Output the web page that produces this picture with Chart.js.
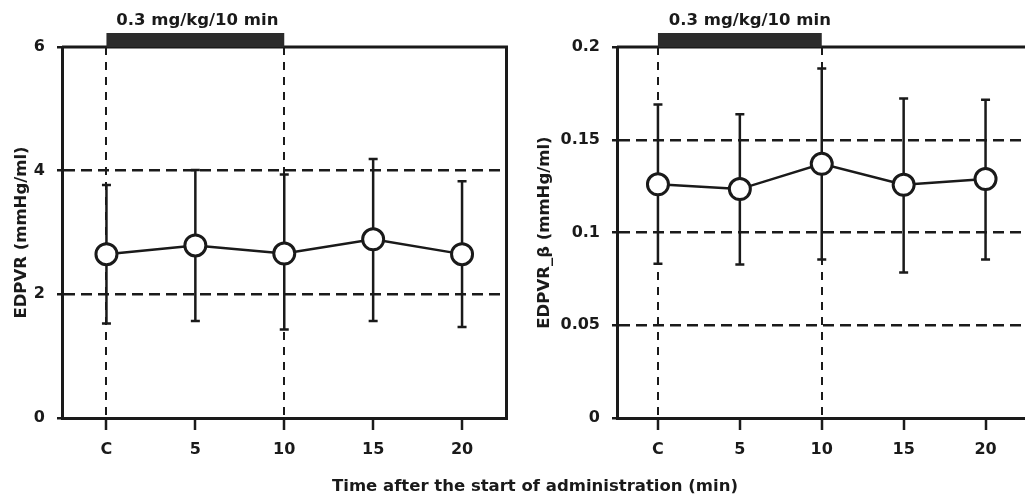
<!DOCTYPE html>
<html>
<head>
<meta charset="utf-8">
<script src="https://cdn.jsdelivr.net/npm/chart.js@4"></script>
<style>
html,body{margin:0;padding:0;background:#fff;overflow:hidden}
body{width:1025px;height:499px;position:relative}
canvas{position:absolute;top:0}
#cl{left:0}
#cr{left:520px}
#xt{position:absolute;left:0;width:1070px;top:476px;text-align:center;font:bold 16.5px "DejaVu Sans";color:#1a1a1a}
</style>
</head>
<body>
<canvas id="cl" width="520" height="499"></canvas>
<canvas id="cr" width="520" height="499"></canvas>
<div id="xt">Time after the start of administration (min)</div>

<script>
// data
var times = ['C', '5', '10', '15', '20'];
var xPos = [0, 1, 2, 3, 4];

var edpvr = [2.65, 2.79, 2.66, 2.89, 2.65];
var edpvrHi = [3.77, 4.01, 3.94, 4.19, 3.83];
var edpvrLo = [1.53, 1.57, 1.43, 1.57, 1.47];

var beta = [0.126, 0.1234, 0.137, 0.1257, 0.1288];
var betaHi = [0.169, 0.1637, 0.1884, 0.1722, 0.1716];
var betaLo = [0.0831, 0.0828, 0.0855, 0.0785, 0.0855];

var yTicksL = [0, 2, 4, 6];
var yLabelsL = ['0', '2', '4', '6'];
var yTicksR = [0, 0.05, 0.1, 0.15, 0.2];
var yLabelsR = ['0', '0.05', '0.1', '0.15', '0.2'];

var doseStart = 0, doseEnd = 2;
var doseLabel = '0.3 mg/kg/10 min';

var ink = '#1a1a1a';
var fam = '"DejaVu Sans", Verdana, sans-serif';

// error bars, box, dose bar
var decor = {
  id: 'decor',
  beforeDatasetsDraw: function(chart) {
    var c = chart.ctx, a = chart.chartArea, o = chart.options.plugins.decor;
    var xs = chart.scales.x, ys = chart.scales.y;
    c.save();
    c.strokeStyle = ink;
    c.lineWidth = 3;
    c.beginPath();
    c.moveTo(a.left, a.top); c.lineTo(a.right, a.top); c.lineTo(a.right, a.bottom);
    c.stroke();
    c.lineWidth = 2.5;
    for (var i = 0; i < xPos.length; i++) {
      var x = xs.getPixelForValue(xPos[i]);
      var y1 = ys.getPixelForValue(o.hi[i]);
      var y2 = ys.getPixelForValue(o.lo[i]);
      c.beginPath();
      c.moveTo(x, y1); c.lineTo(x, y2);
      c.moveTo(x - 4.5, y1); c.lineTo(x + 4.5, y1);
      c.moveTo(x - 4.5, y2); c.lineTo(x + 4.5, y2);
      c.stroke();
    }
    c.restore();
  },
  afterDraw: function(chart) {
    var c = chart.ctx, a = chart.chartArea, o = chart.options.plugins.decor;
    var xs = chart.scales.x;
    var x0 = xs.getPixelForValue(doseStart), x1 = xs.getPixelForValue(doseEnd);
    c.save();
    c.fillStyle = '#2b2b2b';
    c.fillRect(x0, a.top - 14, x1 - x0, 14);
    c.fillStyle = ink;
    c.font = 'bold 16.5px ' + fam;
    c.textAlign = 'center';
    c.textBaseline = 'alphabetic';
    c.fillText(doseLabel, (x0 + x1) / 2 + o.textShift, 25);
    c.restore();
  }
};

function makeChart(id, vals, hi, lo, yTicks, yLabels, yMax, title, axisW, padRight, titlePad, textShift) {
  var pts = xPos.map(function(x, i) { return {x: x, y: vals[i]}; });
  return new Chart(document.getElementById(id), {
    type: 'line',
    data: {
      datasets: [{
        data: pts,
        borderColor: ink,
        borderWidth: 2.5,
        pointRadius: 10.5,
        pointBorderWidth: 3,
        pointBackgroundColor: '#fff',
        pointBorderColor: ink,
        tension: 0
      }]
    },
    options: {
      responsive: false,
      animation: false,
      layout: {padding: {left: 0, right: padRight, top: 47, bottom: 0}},
      plugins: {
        legend: {display: false},
        tooltip: {enabled: false},
        decor: {hi: hi, lo: lo, textShift: textShift}
      },
      scales: {
        x: {
          type: 'linear', min: -0.5, max: 4.5,
          afterBuildTicks: function(s) { s.ticks = xPos.map(function(v) { return {value: v}; }); },
          ticks: {
            callback: function(v, i) { return times[i]; },
            font: {family: fam, size: 16, weight: 'bold'}, color: ink,
            padding: 10, maxRotation: 0, autoSkip: false
          },
          grid: {
            color: function(c) {
              var v = c.tick ? c.tick.value : null;
              return (v === doseStart || v === doseEnd) ? ink : 'rgba(0,0,0,0)';
            },
            lineWidth: 2, tickLength: 12, tickColor: ink, tickWidth: 2.5, tickBorderDash: []
          },
          border: {display: true, color: ink, width: 3, dash: [8, 7]},
          afterFit: function(s) { s.height = 81; }
        },
        y: {
          min: 0, max: yMax,
          afterBuildTicks: function(s) { s.ticks = yTicks.map(function(v) { return {value: v}; }); },
          ticks: {
            callback: function(v, i) { return yLabels[i]; },
            font: {family: fam, size: 16, weight: 'bold'}, color: ink, padding: 12
          },
          grid: {
            color: function(c) {
              return (c.index > 0 && c.index < yTicks.length - 1) ? ink : 'rgba(0,0,0,0)';
            },
            lineWidth: 2.5, tickLength: 5, tickColor: ink, tickWidth: 2.5, tickBorderDash: []
          },
          border: {display: true, color: ink, width: 3, dash: [11, 6]},
          title: {
            display: true, text: title, color: ink,
            font: {family: fam, size: 16.5, weight: 'bold'},
            padding: {top: titlePad, bottom: 0}
          },
          afterFit: function(s) { s.width = axisW; }
        }
      }
    },
    plugins: [decor]
  });
}

makeChart('cl', edpvr, edpvrHi, edpvrLo, yTicksL, yLabelsL, 6, 'EDPVR (mmHg/ml)', 62, 13, 12, 2);
makeChart('cr', beta, betaHi, betaLo, yTicksR, yLabelsR, 0.2, 'EDPVR_\u03b2 (mmHg/ml)', 97, 8, 15, 10);
</script>
</body>
</html>
